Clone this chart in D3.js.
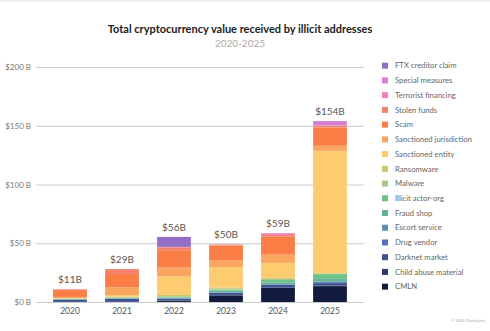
<!DOCTYPE html>
<html><head><meta charset="utf-8">
<script src="https://cdn.jsdelivr.net/npm/d3@7"></script>
<style>body{margin:0;background:#fff}svg{display:block;font-family:Lato,"Open Sans",sans-serif}</style>
</head><body><svg id="c" width="490" height="331"></svg>
<script>
const years = ["2020","2021","2022","2023","2024","2025"];
const totalLabels = ["$11B","$29B","$56B","$50B","$59B","$154B"];
const yTicks = [0,50,100,150,200];
// stack order bottom -> top
const categories = ["CMLN","Child abuse material","Darknet market","Drug vendor","Escort service","Fraud shop","Illicit actor-org","Malware","Ransomware","Sanctioned entity","Sanctioned jurisdiction","Scam","Stolen funds","Terrorist financing","Special measures","FTX creditor claim"];
const colors = ["#111b3d","#2b3a6c","#3e5190","#5a6ec2","#5f8db0","#62b398","#6cc286","#a6c98b","#c9c66c","#fdcb70","#f9a55f","#f97d45","#f3826f","#f282b4","#d580d6","#9370c8"];
const CMLN = [0,0,0.8,5.5,12,13.5];
const childAbuse = [0.1,0.1,0.4,0.5,0.5,0.6];
const darknet = [1.6,2.5,1.5,1.8,2.0,2.0];
const drugVendor = [0.3,0.3,0.3,0.3,0.4,0.8];
const escort = [0.1,0.1,0.2,0.2,0.3,0.3];
const fraudShop = [0.4,0.5,0.6,1.3,1.5,2.5];
const illicitOrg = [0,0.2,0.6,1.0,2.0,4.0];
const malware = [0.2,0.2,0.6,0.7,1.0,0.5];
const ransomware = [0.5,0.6,1.0,1.0,0.8,0.5];
const sanctionedEntity = [0.3,1.5,15.6,17.5,12.8,104];
const sanctionedJur = [0.8,6.5,7.7,5.7,7.0,4.3];
const scam = [5.8,11.3,14.8,12.5,15.5,15.5];
const stolen = [0.7,4.2,2.5,0.8,1.2,1.5];
const terrorist = [0,0,0.3,0.2,1.5,0.5];
const special = [0,0,0,0,0.2,3.5];
const ftx = [0,0,8.5,0,0,0];
const series = [CMLN,childAbuse,darknet,drugVendor,escort,fraudShop,illicitOrg,malware,ransomware,sanctionedEntity,sanctionedJur,scam,stolen,terrorist,special,ftx];

const rows = years.map((y,i)=>{const r={year:y};categories.forEach((c,k)=>r[c]=series[k][i]);return r;});
const svg = d3.select("#c");
svg.append("line").attr("x1",0).attr("x2",490).attr("y1",1).attr("y2",1).attr("stroke","#e6e6e6").attr("stroke-width",1.5);

const x = d3.scaleBand().domain(years).range([44,356]).paddingInner(0.35).paddingOuter(0.175);
const y = d3.scaleLinear().domain([0,200]).range([302,67]);
const color = d3.scaleOrdinal().domain(categories).range(colors);

// grid
const ya = svg.append("g").attr("transform","translate(36,0)")
  .call(d3.axisLeft(y).tickValues(yTicks).tickSize(-328).tickFormat(d=>"$"+d+" B"));
ya.select(".domain").remove();
ya.selectAll(".tick line").attr("stroke","#bdbdbd").attr("stroke-width",0.8);
ya.selectAll(".tick text").attr("x",-5).attr("fill","#777").style("font-size","8px").style("font-family","Lato,sans-serif");

const stack = d3.stack().keys(categories)(rows);
svg.append("g").selectAll("g").data(stack).join("g").attr("fill",d=>color(d.key))
  .selectAll("rect").data(d=>d).join("rect")
  .attr("x",d=>x(d.data.year)).attr("width",x.bandwidth())
  .attr("y",d=>y(d[1])).attr("height",d=>Math.max(0,y(d[0])-y(d[1])));

// totals
const totals = rows.map(r=>d3.sum(categories,c=>r[c]));
svg.append("g").selectAll("text").data(years).join("text")
  .attr("x",d=>x(d)+x.bandwidth()/2).attr("y",(d,i)=>y(totals[i])-6)
  .attr("text-anchor","middle").attr("fill","#555").style("font-size","10px").text((d,i)=>totalLabels[i]);

// x axis
const xa = svg.append("g").attr("transform","translate(0,302)").call(d3.axisBottom(x).tickSize(0));
xa.select(".domain").remove();
xa.selectAll("text").attr("dy","0.9em").attr("y",4).attr("fill","#555").style("font-size","8.5px").style("font-family","Lato,sans-serif");

// title
svg.append("text").attr("x",240).attr("y",33).attr("text-anchor","middle").attr("fill","#222")
  .style("font-size","11px").style("font-weight","bold").text("Total cryptocurrency value received by illicit addresses");
svg.append("text").attr("x",240).attr("y",47).attr("text-anchor","middle").attr("fill","#aaa")
  .style("font-size","10px").text("2020-2025");

// legend
const legendCats = categories.slice().reverse();
const lg = svg.append("g").selectAll("g").data(legendCats).join("g")
  .attr("transform",(d,i)=>`translate(382,${65.7+i*14.73})`);
lg.append("rect").attr("x",0).attr("y",-3).attr("width",6).attr("height",6).attr("fill",d=>color(d));
lg.append("text").attr("x",13).attr("y",0).attr("dy","0.35em").attr("fill","#666").style("font-size","7.7px").text(d=>d);

svg.append("text").attr("x",485).attr("y",322).attr("text-anchor","end").attr("fill","#aaa").style("font-size","4px").text("© 2026 Chainalysis");
</script></body></html>
